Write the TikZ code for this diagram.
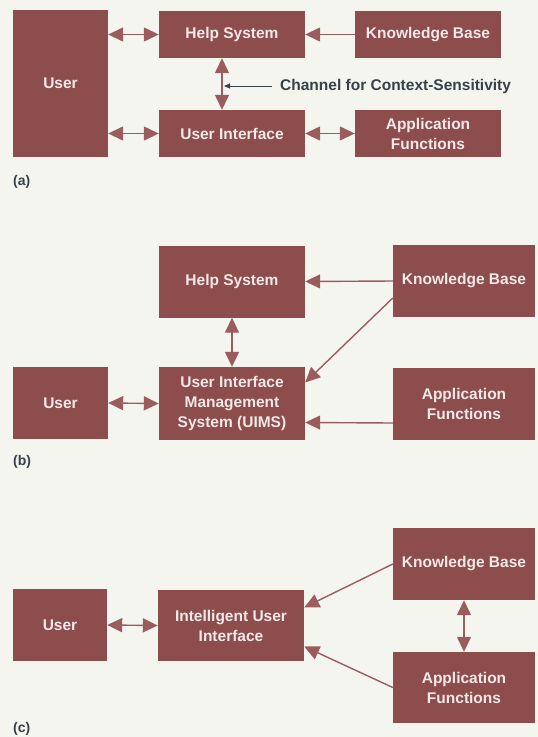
\documentclass[tikz,border=0pt]{standalone}
\usepackage{fontspec}
\setmainfont{Liberation Sans}
\usetikzlibrary{arrows.meta, positioning}
\definecolor{paper}{HTML}{F5F5F0}
\definecolor{boxbrown}{HTML}{8C4D4C}
\definecolor{boxtext}{HTML}{F4E9E6}
\definecolor{arrowbrown}{HTML}{9A5C5C}
\definecolor{inkgray}{HTML}{36414A}

\begin{document}
\begin{tikzpicture}[
    x=1pt, y=-1pt,
    box/.style={fill=boxbrown, text=boxtext, font=\bfseries\fontsize{15.5}{20}\selectfont,
      align=center, inner sep=0pt, minimum width=146pt, minimum height=72pt},
    arrow/.style={-{Triangle[length=15pt, width=14pt]}, line width=1.4pt, arrowbrown},
    twoway/.style={{Triangle[length=15pt, width=14pt]}-{Triangle[length=15pt, width=14pt]}, line width=1.4pt, arrowbrown},
    pointer/.style={-{Triangle[length=6pt, width=5pt]}, line width=1pt, inkgray},
    tag/.style={font=\bfseries\fontsize{14}{16}\selectfont, text=inkgray, anchor=west, inner sep=0pt},
]
    \fill[paper] (0,0) rectangle (538,737);
    \useasboundingbox (0,0) rectangle (538,737);

    % (a) help system beside the user interface
    \node[box, minimum width=95pt, minimum height=147pt] (userA) at (60.5, 83.5) {User};
    \node[box, minimum height=47pt] (helpA) at (232, 34.5) {Help System};
    \node[box, minimum height=47pt] (kbA) at (428, 34.5) {Knowledge Base};
    \node[box, minimum height=47pt] (uiA) at (232, 133.5) {User Interface};
    \node[box, minimum height=47pt] (afA) at (428, 133.5) {Application\\Functions};
    \node[font=\bfseries\fontsize{15.5}{20}\selectfont, text=inkgray, anchor=west, inner sep=0pt]
      (chanA) at (280, 86) {Channel for Context-Sensitivity};
    \coordinate (chanTip) at (224, 86);
    \node[tag] (labA) at (13, 182) {(a)};

    \draw[twoway] (userA.east |- helpA) -- (helpA.west);
    \draw[twoway] (userA.east |- uiA) -- (uiA.west);
    \draw[arrow] (kbA.west) -- (helpA.east);
    \draw[twoway] (uiA.east) -- (afA.west);
    \draw[twoway] ([xshift=-10pt]helpA.south) -- ([xshift=-10pt]uiA.north);
    \draw[pointer] ([xshift=-8pt]chanA.west) -- (chanTip);

    % (b) UIMS
    \node[box] (helpB) at (232, 281.5) {Help System};
    \node[box, minimum width=142pt] (kbB) at (464, 281) {Knowledge Base};
    \node[box, minimum width=95pt] (userB) at (60.5, 403) {User};
    \node[box, minimum height=73pt] (uimsB) at (232, 403.5) {User Interface\\Management\\System (UIMS)};
    \node[box, minimum width=142pt] (afB) at (464, 404) {Application\\Functions};
    \node[tag] (labB) at (13, 462) {(b)};

    \draw[arrow] (kbB.west) -- (helpB.east);
    \draw[twoway] (helpB.south) -- (uimsB.north);
    \draw[arrow] ([yshift=-17pt]kbB.west) -- ([yshift=21pt]uimsB.east);
    \draw[arrow] ([yshift=-19pt]afB.west) -- ([yshift=-19pt]uimsB.east);
    \draw[twoway] (userB.east) -- (uimsB.west);

    % (c) intelligent user interface
    \node[box, minimum width=94pt] (userC) at (60, 625) {User};
    \node[box, minimum height=71pt] (iuiC) at (231, 625.5) {Intelligent User\\Interface};
    \node[box, minimum width=142pt] (kbC) at (464, 564) {Knowledge Base};
    \node[box, minimum width=142pt, minimum height=71pt] (afC) at (464, 687.5) {Application\\Functions};
    \node[tag] (labC) at (13, 729) {(c)};

    \draw[twoway] (userC.east) -- (iuiC.west);
    \draw[twoway] (kbC.south) -- (afC.north);
    \draw[arrow] (kbC.west) -- ([yshift=18pt]iuiC.east);
    \draw[arrow] (afC.west) -- ([yshift=-21pt]iuiC.east);

\end{tikzpicture}
\end{document}
